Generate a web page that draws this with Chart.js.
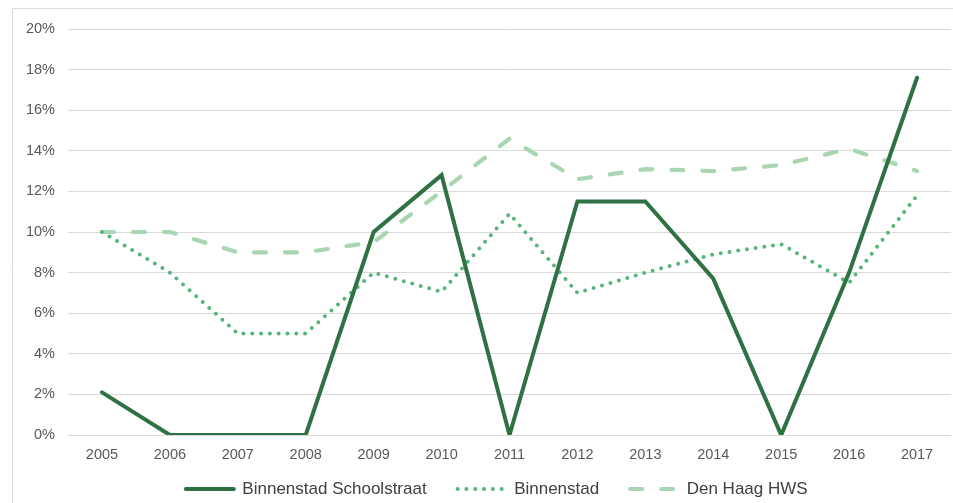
<!DOCTYPE html>
<html>
<head>
<meta charset="utf-8">
<script src="https://cdn.jsdelivr.net/npm/chart.js@4/dist/chart.umd.min.js"></script>
<style>
  html, body { margin: 0; padding: 0; background: #ffffff; overflow: hidden; }
  #wrap { position: relative; width: 953px; height: 503px; overflow: hidden; }
</style>
</head>
<body>
<div id="wrap"><canvas id="c" width="953" height="521"></canvas></div>
<script>
const categories = ['2005','2006','2007','2008','2009','2010','2011','2012','2013','2014','2015','2016','2017'];
const schoolstraat = [2.1, 0, 0, 0, 10, 12.8, 0, 11.5, 11.5, 7.7, 0, 8.0, 17.6];
const binnenstad   = [10, 8, 5, 5, 8, 7.05, 10.9, 7.0, 8.0, 8.9, 9.4, 7.5, 11.8];
const denHaagHWS   = [10, 10, 9, 9, 9.5, 12.0, 14.6, 12.6, 13.1, 13.0, 13.3, 14.1, 13.0];
const seriesNames  = ['Binnenstad Schoolstraat', 'Binnenstad', 'Den Haag HWS'];
const yTicks = [0, 2, 4, 6, 8, 10, 12, 14, 16, 18, 20];

const FONT = "'Liberation Sans', Arial, sans-serif";

const frame = {
  id: 'frame',
  beforeDraw(chart) {
    const ctx = chart.ctx;
    ctx.save();
    ctx.strokeStyle = '#d9d9d9';
    ctx.lineWidth = 1;
    ctx.beginPath();
    ctx.moveTo(12.5, 530);
    ctx.lineTo(12.5, 8.5);
    ctx.lineTo(953, 8.5);
    ctx.stroke();
    ctx.restore();
  }
};

// place the legend row where the reference has it
const legendPlacement = {
  id: 'legendPlacement',
  afterLayout(chart) {
    const lg = chart.legend;
    if (!lg) return;
    const h = lg.height;
    lg.left = 42.5;
    lg.top = 449.5;
    lg.bottom = lg.top + h;
  }
};

new Chart(document.getElementById('c'), {
  type: 'line',
  data: {
    labels: categories,
    datasets: [
      {
        label: seriesNames[0],
        data: schoolstraat,
        borderColor: '#2f7142',
        backgroundColor: '#2f7142',
        borderWidth: 4,
        borderCapStyle: 'round',
        borderJoinStyle: 'miter',
        pointRadius: 0,
        tension: 0
      },
      {
        label: seriesNames[1],
        data: binnenstad,
        borderColor: '#57b47a',
        backgroundColor: '#57b47a',
        borderWidth: 4,
        borderDash: [0, 8.8],
        borderCapStyle: 'round',
        pointRadius: 0,
        tension: 0
      },
      {
        label: seriesNames[2],
        data: denHaagHWS,
        borderColor: '#a9d6b2',
        backgroundColor: '#a9d6b2',
        borderWidth: 4.2,
        borderDash: [12, 19],
        borderCapStyle: 'round',
        pointRadius: 0,
        tension: 0
      }
    ]
  },
  options: {
    responsive: false,
    animation: false,
    layout: { padding: { left: 0, right: 2, top: 29, bottom: 0 } },
    plugins: {
      legend: {
        position: 'bottom',
        labels: {
          usePointStyle: true,
          pointStyle: 'line',
          pointStyleWidth: 48,
          boxWidth: 48,
          padding: 31,
          color: '#404040',
          font: { family: FONT, size: 17 },
          generateLabels(chart) {
            const items = Chart.defaults.plugins.legend.labels.generateLabels(chart);
            return items.map(it => {
              const ds = chart.data.datasets[it.datasetIndex];
              it.lineDash = ds.borderDash || [];
              it.lineCap = ds.borderCapStyle || 'butt';
              it.lineWidth = ds.borderWidth;
              it.strokeStyle = ds.borderColor;
              it.fillStyle = ds.borderColor;
              it.pointStyle = 'line';
              return it;
            });
          }
        }
      },
      tooltip: { enabled: false }
    },
    scales: {
      x: {
        offset: true,
        grid: { display: false, drawTicks: false },
        border: { display: false },
        ticks: { color: '#595959', font: { family: FONT, size: 14.5 }, padding: 11, maxRotation: 0 },
        afterFit(scale) { scale.height = 28; }
      },
      y: {
        min: 0,
        max: 20,
        afterBuildTicks(scale) { scale.ticks = yTicks.map(v => ({ value: v })); },
        grid: { color: '#d9d9d9', lineWidth: 1, drawTicks: false },
        border: { display: false },
        ticks: {
          color: '#595959',
          font: { family: FONT, size: 14.5 },
          padding: 13,
          callback: v => v + '%'
        },
        afterFit(scale) { scale.width = 68; }
      }
    }
  },
  plugins: [frame, legendPlacement]
});
</script>
</body>
</html>
